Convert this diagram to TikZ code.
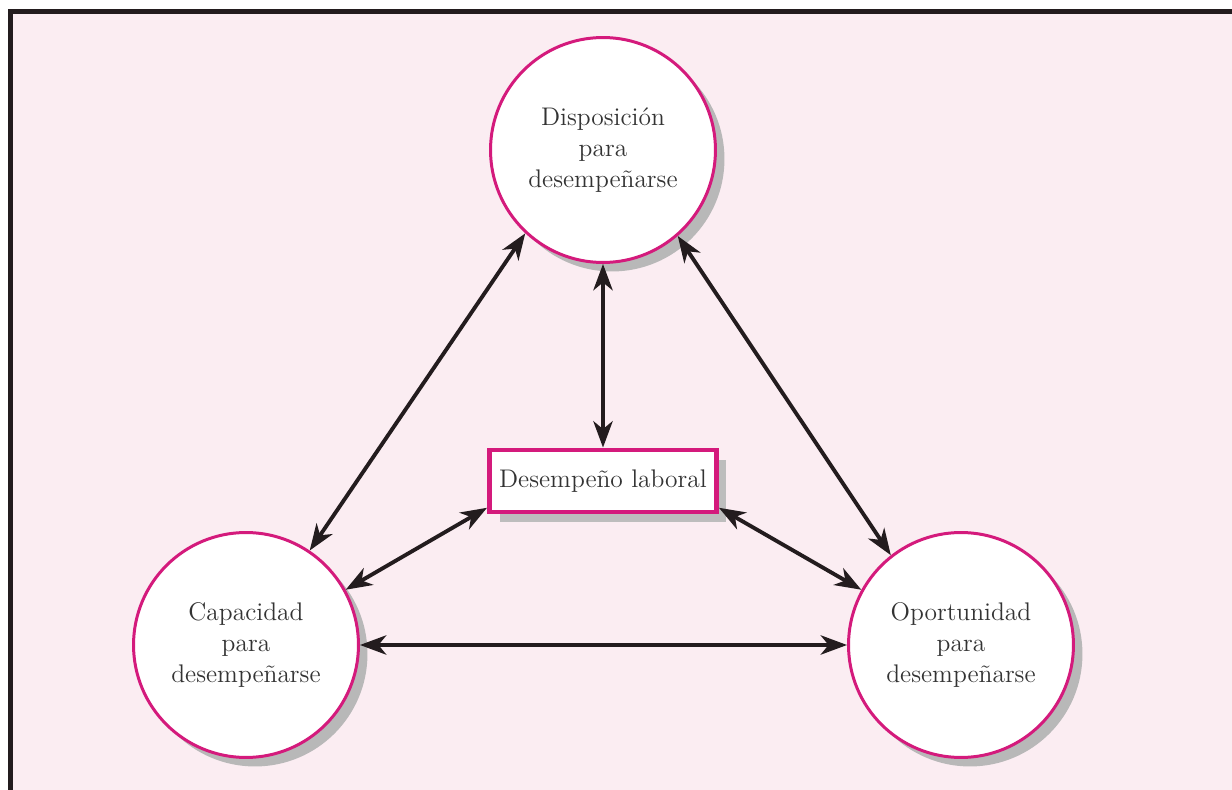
\documentclass[tikz,border=0pt]{standalone}
\usepackage{fontspec}
\usetikzlibrary{arrows.meta,shadows}
\definecolor{fondo}{HTML}{FBEDF2}
\definecolor{magenta}{HTML}{D41A7C}
\definecolor{marco}{HTML}{231C1E}
\definecolor{texto}{HTML}{333333}
\begin{document}
\begin{tikzpicture}[x=0.02cm, y=-0.02cm,
    factor/.style={circle, draw=magenta, line width=1.7pt, fill=white,
      minimum size=4.5cm, align=center, text=texto,
      font=\fontsize{14.5}{17.5}\selectfont,
      drop shadow={shadow xshift=.18cm, shadow yshift=-.18cm, fill=black!28, opacity=1}},
    centro/.style={rectangle, draw=magenta, line width=2.8pt, fill=white,
      minimum width=4.54cm, minimum height=1.24cm, text=texto,
      font=\fontsize{14.5}{17.5}\selectfont,
      drop shadow={shadow xshift=.2cm, shadow yshift=-.2cm, fill=black!26, opacity=1}},
    flecha/.style={{Stealth[length=15pt,width=11pt,inset=4.5pt]}-{Stealth[length=15pt,width=11pt,inset=4.5pt]},
      line width=2.2pt, draw=marco}]
  \useasboundingbox (0,0) rectangle (1232,790);
  \fill[white] (0,0) rectangle (1232,790);
  \fill[fondo] (13,14) rectangle (1232,790);
  \fill[marco] (8,9) rectangle (13,790);
  \fill[marco] (8,9) rectangle (1232,14);

  \node[factor] (disp) at (603,150) {Disposición\\para\\desempeñarse};
  \node[factor] (cap) at (246,645) {Capacidad\\para\\desempeñarse};
  \node[factor] (opor) at (961,645) {Oportunidad\\para\\desempeñarse};
  \node[centro] (desem) at (603,481) {Desempeño laboral};

  \draw[flecha] (cap.56) -- (disp.227);
  \draw[flecha] (disp.311) -- (opor.128);
  \draw[flecha] (disp.south) -- (desem.north);
  \draw[flecha] (desem.193) -- (cap.29);
  \draw[flecha] (desem.347) -- (opor.151);
  \draw[flecha] (cap.east) -- (opor.west);
\end{tikzpicture}
\end{document}
